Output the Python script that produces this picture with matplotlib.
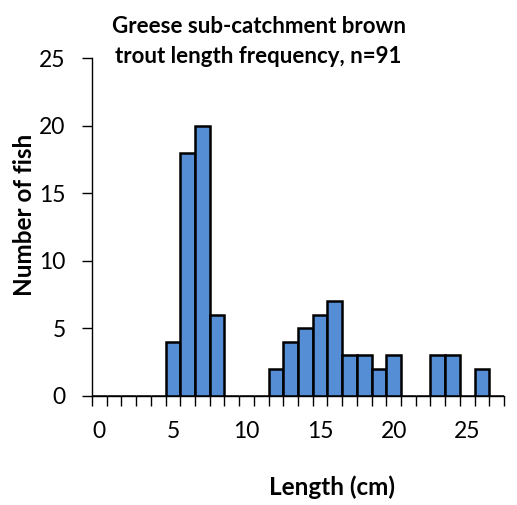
import numpy as np
import matplotlib.pyplot as plt

plt.rcParams['font.family'] = ['Lato', 'DejaVu Sans']

# length class (cm) and counts
lengths = np.arange(0, 28)
counts = np.zeros(28, dtype=int)
bar_len = [5, 6, 7, 8, 12, 13, 14, 15, 16, 17, 18, 19, 20, 23, 24, 26]
bar_n = [4, 18, 20, 6, 2, 4, 5, 6, 7, 3, 3, 2, 3, 3, 3, 2]
counts[bar_len] = bar_n
tick_labels = ['0', '5', '10', '15', '20', '25']

fig = plt.figure(figsize=(5.17, 5.05), dpi=100)
ax = fig.add_axes([0.178, 0.216, 0.797, 0.669])

ax.bar(lengths, counts, width=1.0, color='#558ED5', edgecolor='black', linewidth=1.8)

ax.set_xlim(-0.5, 27.5)
ax.set_ylim(0, 25)
ax.set_yticks([0, 5, 10, 15, 20, 25])
ax.set_xticks(np.arange(-0.5, 28, 1))
ax.set_xticklabels([])
ax.set_xticks([0, 5, 10, 15, 20, 25], minor=True)
ax.set_xticklabels(tick_labels, minor=True)
ax.tick_params(axis='x', which='major', length=7, width=1, direction='out')
ax.tick_params(axis='x', which='minor', length=0, pad=18, labelsize=16.5)
ax.tick_params(axis='y', length=7, width=1, direction='out', labelsize=16.5, pad=12)

for s in ['top', 'right']:
    ax.spines[s].set_visible(False)
ax.spines['left'].set_linewidth(1)
ax.spines['bottom'].set_linewidth(1)

fig.text(0.048, 0.574, 'Number of fish', rotation=90, ha='center', va='center',
         fontsize=17.5, fontweight='bold')
fig.text(0.643, 0.012, 'Length (cm)', ha='center', va='bottom', fontsize=17.5, fontweight='bold')
fig.text(0.5, 0.968, 'Greese sub-catchment brown\ntrout length frequency, n=91',
         ha='center', va='top', fontsize=16, fontweight='bold', linespacing=1.5)

fig.savefig('out.png', dpi=100)
